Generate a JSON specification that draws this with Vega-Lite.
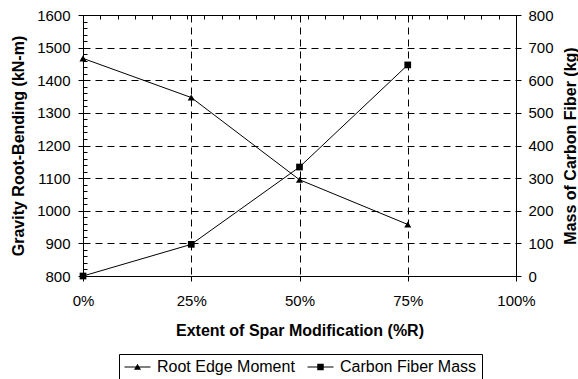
{
  "$schema": "https://vega.github.io/schema/vega-lite/v6.json",
  "width": 433,
  "height": 261,
  "autosize": {"type": "none"},
  "padding": {"left": 83, "top": 15, "right": 62, "bottom": 103},
  "background": "white",
  "config": {
    "font": "Liberation Sans",
    "view": {"stroke": "black", "strokeWidth": 1},
    "axis": {
      "domainColor": "black",
      "domainWidth": 1,
      "tickColor": "black",
      "tickWidth": 1,
      "labelColor": "black",
      "labelFont": "Liberation Sans",
      "labelFontSize": 15,
      "titleColor": "black",
      "titleFont": "Liberation Sans",
      "titleFontSize": 16,
      "titleFontWeight": "bold",
      "gridColor": "black",
      "gridOpacity": 1,
      "gridWidth": 1,
      "gridDash": [7, 5]
    },
    "legend": {
      "orient": "none",
      "legendX": 36,
      "legendY": 339,
      "direction": "horizontal",
      "strokeColor": "black",
      "fillColor": "white",
      "padding": 5,
      "symbolSize": 225,
      "labelOffset": 17,
      "columnPadding": 10,
      "labelFont": "Liberation Sans",
      "labelFontSize": 16,
      "labelColor": "black",
      "symbolOpacity": 1,
      "symbolFillColor": "black",
      "symbolStrokeColor": "black",
      "symbolStrokeWidth": 1
    }
  },
  "data": {
    "values": [
      {"pct": 0, "series": "Root Edge Moment", "value": 1467},
      {"pct": 0.25, "series": "Root Edge Moment", "value": 1347},
      {"pct": 0.5, "series": "Root Edge Moment", "value": 1095},
      {"pct": 0.75, "series": "Root Edge Moment", "value": 958},
      {"pct": 0, "series": "Carbon Fiber Mass", "value": 0},
      {"pct": 0.25, "series": "Carbon Fiber Mass", "value": 97},
      {"pct": 0.5, "series": "Carbon Fiber Mass", "value": 334},
      {"pct": 0.75, "series": "Carbon Fiber Mass", "value": 647}
    ]
  },
  "layer": [
    {
      "transform": [{"filter": "datum.series === 'Root Edge Moment'"}],
      "mark": {"type": "line", "color": "black", "strokeWidth": 1},
      "encoding": {
        "x": {
          "field": "pct", "type": "quantitative",
          "scale": {"domain": [0, 1], "nice": false},
          "axis": {"values": [0, 0.25, 0.5, 0.75, 1], "format": "%", "labelFlush": false, "grid": true, "tickSize": 5, "labelPadding": 12, "title": "Extent of Spar Modification (%R)", "titlePadding": 14}
        },
        "y": {
          "field": "value", "type": "quantitative",
          "scale": {"domain": [800, 1600], "nice": false, "zero": false},
          "axis": {"orient": "left", "values": [800, 900, 1000, 1100, 1200, 1300, 1400, 1500, 1600], "format": "d", "labelFlush": false, "grid": true, "tickSize": 5, "labelPadding": 8, "title": "Gravity Root-Bending (kN-m)", "titlePadding": 10}
        }
      }
    },
    {
      "transform": [{"filter": "datum.series === 'Root Edge Moment'"}],
      "mark": {"type": "point", "filled": true, "color": "black", "shape": "triangle-up", "size": 50, "opacity": 1},
      "encoding": {
        "x": {
          "field": "pct", "type": "quantitative",
          "scale": {"domain": [0, 1], "nice": false},
          "axis": {"values": [0, 0.04, 0.08, 0.12, 0.16, 0.2, 0.24, 0.25, 0.28, 0.32, 0.36, 0.4, 0.44, 0.48, 0.5, 0.52, 0.56, 0.6, 0.64, 0.68, 0.72, 0.75, 0.76, 0.8, 0.84, 0.88, 0.92, 0.96, 1], "tickSize": -4, "labels": false, "domain": false, "grid": false, "title": null}
        },
        "y": {
          "field": "value", "type": "quantitative",
          "scale": {"domain": [800, 1600], "nice": false, "zero": false},
          "axis": {"orient": "left", "values": [800, 820, 840, 860, 880, 900, 920, 940, 960, 980, 1000, 1020, 1040, 1060, 1080, 1100, 1120, 1140, 1160, 1180, 1200, 1220, 1240, 1260, 1280, 1300, 1320, 1340, 1360, 1380, 1400, 1420, 1440, 1460, 1480, 1500, 1520, 1540, 1560, 1580, 1600], "tickSize": -4, "labels": false, "domain": false, "grid": false, "title": null}
        }
      }
    },
    {
      "transform": [{"filter": "datum.series === 'Carbon Fiber Mass'"}],
      "mark": {"type": "line", "color": "black", "strokeWidth": 1},
      "encoding": {
        "x": {"field": "pct", "type": "quantitative", "scale": {"domain": [0, 1], "nice": false}, "axis": null},
        "y": {
          "field": "value", "type": "quantitative",
          "scale": {"domain": [0, 800], "nice": false},
          "axis": {"orient": "right", "values": [0, 100, 200, 300, 400, 500, 600, 700, 800], "labelFlush": false, "grid": false, "tickSize": 5, "labelPadding": 7, "title": "Mass of Carbon Fiber (kg)", "titleAngle": 270, "titleBaseline": "top", "titlePadding": 9}
        }
      }
    },
    {
      "transform": [{"filter": "datum.series === 'Carbon Fiber Mass'"}],
      "mark": {"type": "point", "filled": true, "color": "black", "shape": "square", "size": 45, "opacity": 1},
      "encoding": {
        "x": {"field": "pct", "type": "quantitative", "scale": {"domain": [0, 1], "nice": false}, "axis": null},
        "y": {"field": "value", "type": "quantitative", "scale": {"domain": [0, 800], "nice": false}, "axis": null}
      }
    },
    {
      "mark": {"type": "point", "filled": true, "color": "black", "opacity": 0},
      "encoding": {
        "x": {"field": "pct", "type": "quantitative", "scale": {"domain": [0, 1], "nice": false}, "axis": null},
        "y": {"field": "value", "type": "quantitative", "scale": {"domain": [0, 2000], "nice": false}, "axis": null},
        "shape": {
          "field": "series", "type": "nominal",
          "scale": {"domain": ["Root Edge Moment", "Carbon Fiber Mass"], "range": ["M-1,-0.067H2.467V0.067H-1ZM0.733,-0.42L1.2,0.38H0.267Z", "M-1,-0.067H2.467V0.067H-1ZM0.3,-0.433H1.167V0.433H0.3Z"]},
          "legend": {"title": null}
        }
      }
    }
  ],
  "resolve": {"scale": {"y": "independent"}, "axis": {"x": "independent", "y": "independent"}}
}
